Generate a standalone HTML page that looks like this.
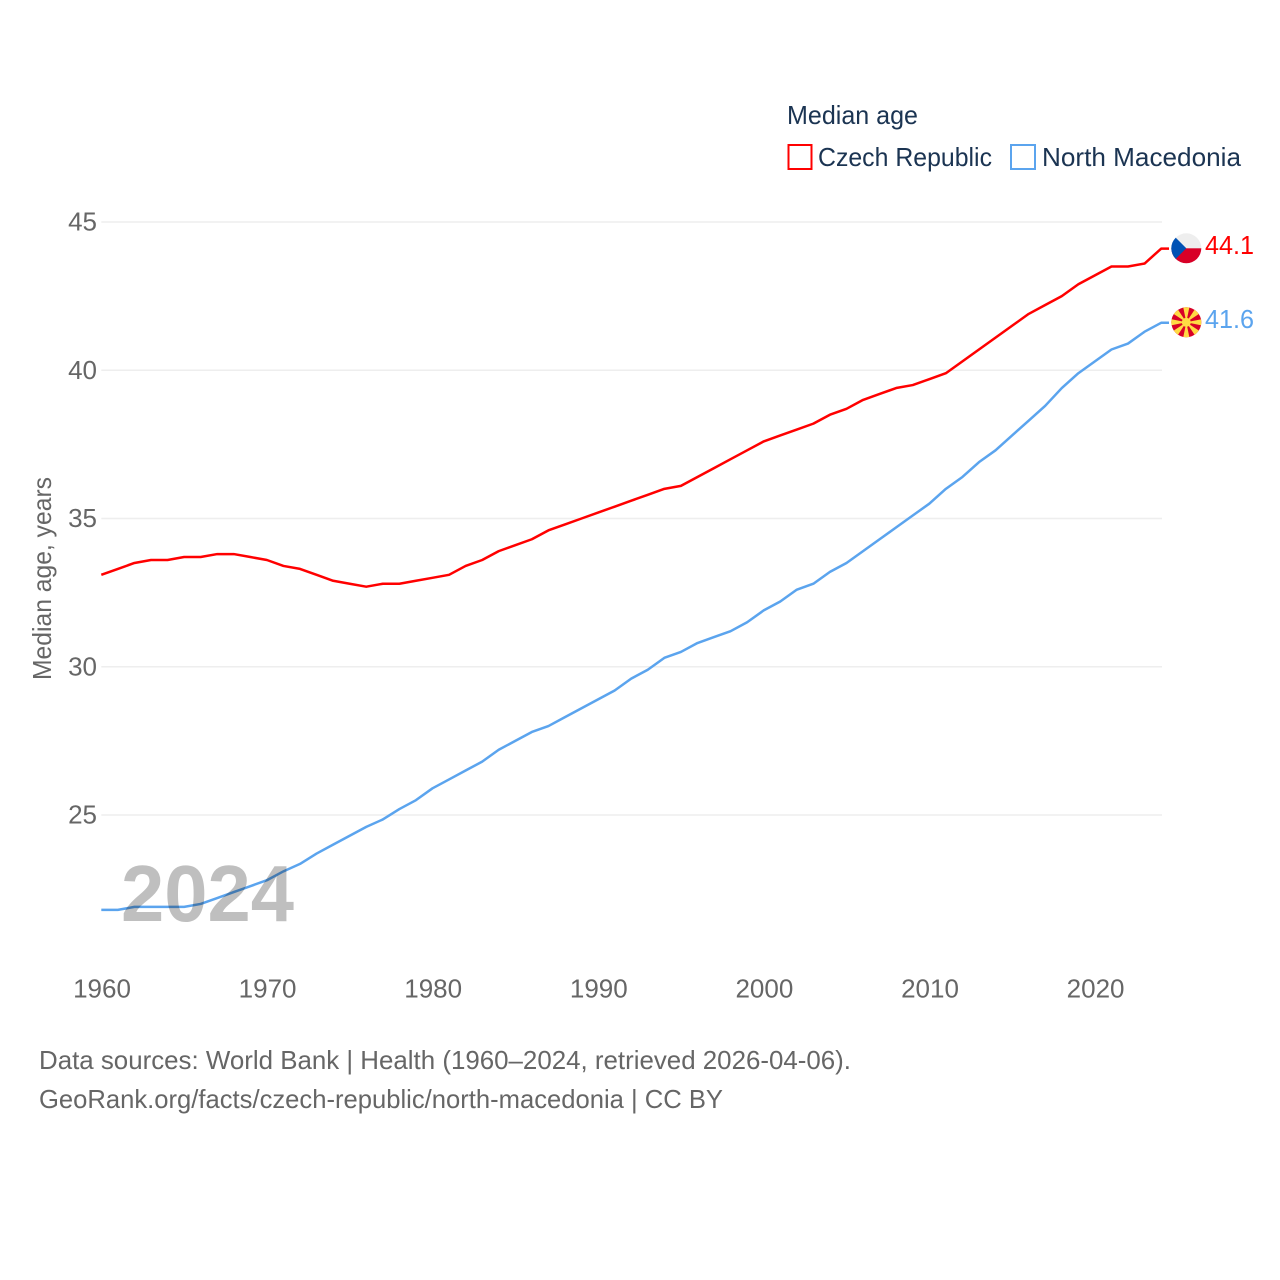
<!DOCTYPE html>
<html lang="en">
<head>
<meta charset="utf-8">
<title>Median age: Czech Republic and North Macedonia</title>
<style>
html,body{margin:0;padding:0;background:#fff;}
svg{display:block;}
text{font-family:"Liberation Sans",sans-serif;font-size:26px;}
.tick{fill:#666;}
.foot{fill:#666;}
.leg{fill:#1b3452;}
</style>
</head>
<body>
<svg id="chart" xmlns="http://www.w3.org/2000/svg" width="1280" height="1280" viewBox="0 0 1280 1280">
  <defs>
    <clipPath id="clip-cz"><circle cx="1186.3" cy="248.3" r="15"/></clipPath>
    <clipPath id="clip-mk"><circle cx="1186.3" cy="322.3" r="15"/></clipPath>
  </defs>
  <g id="grid"></g>
  <g id="yticks"></g>
  <g id="xticks"></g>
  <text class="tick" transform="translate(51,680) rotate(-90)" textLength="203" lengthAdjust="spacingAndGlyphs">Median age, years</text>
  <g id="lines"></g>

  <text x="121" y="921" style="font-size:80px;font-weight:bold;fill:#000;fill-opacity:.25" textLength="173" lengthAdjust="spacingAndGlyphs">2024</text>

  <g clip-path="url(#clip-cz)">
    <rect x="1171" y="233" width="31" height="16" fill="#eeeeee"/>
    <rect x="1171" y="248.3" width="31" height="16" fill="#d80027"/>
    <polygon points="1171,233 1186.3,248.3 1171,263.6" fill="#0052b4"/>
  </g>
  <g clip-path="url(#clip-mk)">
    <rect x="1171" y="307" width="31" height="31" fill="#d80027"/>
    <g fill="#ffda44">
      <polygon points="1186.3,322.3 1183.1,306.6 1189.5,306.6"/>
      <polygon points="1186.3,322.3 1183.1,306.6 1189.5,306.6" transform="rotate(45 1186.3 322.3)"/>
      <polygon points="1186.3,322.3 1183.1,306.6 1189.5,306.6" transform="rotate(90 1186.3 322.3)"/>
      <polygon points="1186.3,322.3 1183.1,306.6 1189.5,306.6" transform="rotate(135 1186.3 322.3)"/>
      <polygon points="1186.3,322.3 1183.1,306.6 1189.5,306.6" transform="rotate(180 1186.3 322.3)"/>
      <polygon points="1186.3,322.3 1183.1,306.6 1189.5,306.6" transform="rotate(225 1186.3 322.3)"/>
      <polygon points="1186.3,322.3 1183.1,306.6 1189.5,306.6" transform="rotate(270 1186.3 322.3)"/>
      <polygon points="1186.3,322.3 1183.1,306.6 1189.5,306.6" transform="rotate(315 1186.3 322.3)"/>
      <circle cx="1186.3" cy="322.3" r="4.5"/>
    </g>
  </g>
  <text x="1205" y="254" fill="#ff0000" textLength="49" lengthAdjust="spacingAndGlyphs">44.1</text>
  <text x="1205" y="328" fill="#5ba4ee" textLength="49" lengthAdjust="spacingAndGlyphs">41.6</text>

  <g>
    <text class="leg" x="787" y="124" textLength="131" lengthAdjust="spacingAndGlyphs">Median age</text>
    <rect x="788.5" y="145" width="23" height="24" fill="none" stroke="#ff0000" stroke-width="2"/>
    <text class="leg" x="818" y="166" textLength="174" lengthAdjust="spacingAndGlyphs">Czech Republic</text>
    <rect x="1011" y="145" width="24" height="24" fill="none" stroke="#5ba4ee" stroke-width="2"/>
    <text class="leg" x="1042" y="166" textLength="199" lengthAdjust="spacingAndGlyphs">North Macedonia</text>
  </g>

  <text class="foot" x="39" y="1069" textLength="812" lengthAdjust="spacingAndGlyphs">Data sources: World Bank | Health (1960–2024, retrieved 2026-04-06).</text>
  <text class="foot" x="39" y="1108" textLength="684" lengthAdjust="spacingAndGlyphs">GeoRank.org/facts/czech-republic/north-macedonia | CC BY</text>
</svg>
<script>
const startYear = 1960;
const xTickLabels = [1960, 1970, 1980, 1990, 2000, 2010, 2020];
const yTickLabels = [25, 30, 35, 40, 45];
const czechRepublic = [33.1,33.3,33.5,33.6,33.6,33.7,33.7,33.8,33.8,33.7,33.6,33.4,33.3,33.1,32.9,32.8,32.7,32.8,32.8,32.9,33.0,33.1,33.4,33.6,33.9,34.1,34.3,34.6,34.8,35.0,35.2,35.4,35.6,35.8,36.0,36.1,36.4,36.7,37.0,37.3,37.6,37.8,38.0,38.2,38.5,38.7,39.0,39.2,39.4,39.5,39.7,39.9,40.3,40.7,41.1,41.5,41.9,42.2,42.5,42.9,43.2,43.5,43.5,43.6,44.1];
const northMacedonia = [21.8,21.8,21.9,21.9,21.9,21.9,22.0,22.2,22.4,22.6,22.8,23.1,23.35,23.7,24.0,24.3,24.6,24.85,25.2,25.5,25.9,26.2,26.5,26.8,27.2,27.5,27.8,28.0,28.3,28.6,28.9,29.2,29.6,29.9,30.3,30.5,30.8,31.0,31.2,31.5,31.9,32.2,32.6,32.8,33.2,33.5,33.9,34.3,34.7,35.1,35.5,36.0,36.4,36.9,37.3,37.8,38.3,38.8,39.4,39.9,40.3,40.7,40.9,41.3,41.6];

const NS = 'http://www.w3.org/2000/svg';
const xScale = function (year) { return 101.3 + (year - 1960) * 16.56; };
const yScale = function (v) { return 222 + (45 - v) * 29.65; };
const plotRight = 1162;
const flagStub = 1169;

const grid = document.getElementById('grid');
const yticks = document.getElementById('yticks');
const xticks = document.getElementById('xticks');
const lines = document.getElementById('lines');

yTickLabels.forEach(function (v) {
  const gl = document.createElementNS(NS, 'line');
  gl.setAttribute('x1', xScale(1960));
  gl.setAttribute('x2', plotRight);
  gl.setAttribute('y1', yScale(v));
  gl.setAttribute('y2', yScale(v));
  gl.setAttribute('stroke', '#eeeeee');
  gl.setAttribute('stroke-width', '1.5');
  
  
  grid.appendChild(gl);

  const t = document.createElementNS(NS, 'text');
  t.setAttribute('x', 97);
  t.setAttribute('y', yScale(v) + 8.5);
  t.setAttribute('text-anchor', 'end');
  t.setAttribute('class', 'tick');
  
  
  t.textContent = v;
  yticks.appendChild(t);
});

xTickLabels.forEach(function (year) {
  const t = document.createElementNS(NS, 'text');
  t.setAttribute('x', xScale(year) + 0.7);
  t.setAttribute('y', 997.5);
  t.setAttribute('text-anchor', 'middle');
  t.setAttribute('class', 'tick');
  
  
  t.textContent = year;
  xticks.appendChild(t);
});

function drawSeries(values, color, name) {
  const pts = values.map(function (v, i) {
    return xScale(startYear + i).toFixed(2) + ',' + yScale(v).toFixed(2);
  });
  pts.push(flagStub + ',' + yScale(values[values.length - 1]).toFixed(2));
  const p = document.createElementNS(NS, 'polyline');
  p.setAttribute('points', pts.join(' '));
  p.setAttribute('fill', 'none');
  p.setAttribute('stroke', color);
  p.setAttribute('stroke-width', '2.5');
  p.setAttribute('stroke-linejoin', 'round');
  
  
  lines.appendChild(p);
}
drawSeries(czechRepublic, '#ff0000', 'line-czech-republic');
drawSeries(northMacedonia, '#5ba4ee', 'line-north-macedonia');
</script>
</body>
</html>
